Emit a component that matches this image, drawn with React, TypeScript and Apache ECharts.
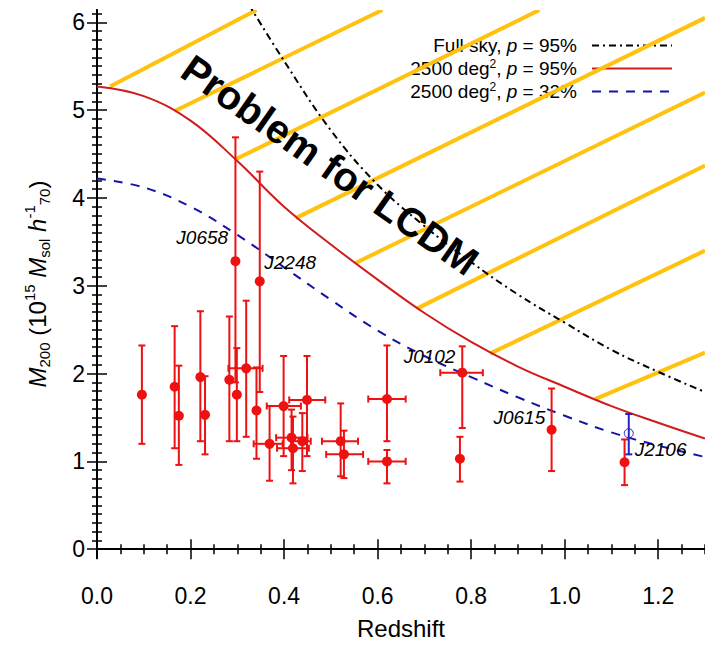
import React, { useEffect, useRef } from "react";
import * as echarts from "echarts";

// ---- axis ticks ----
const xMajorTicks = [0, 0.2, 0.4, 0.6, 0.8, 1.0, 1.2];
const yMajorTicks = [0, 1, 2, 3, 4, 5, 6];

// ---- cluster measurements (red points) ----
const clusterZ = [0.096, 0.166, 0.175, 0.221, 0.231, 0.283, 0.296, 0.299, 0.319, 0.348, 0.341, 0.369, 0.399, 0.416, 0.419, 0.439, 0.449, 0.521, 0.528, 0.620, 0.620, 0.781, 0.776, 0.972, 1.128];
const clusterM = [1.76, 1.85, 1.52, 1.96, 1.53, 1.93, 3.28, 1.76, 2.06, 3.05, 1.58, 1.20, 1.63, 1.27, 1.15, 1.23, 1.70, 1.23, 1.08, 1.71, 1.00, 2.01, 1.03, 1.36, 0.99];
const clusterMLo = [1.20, 1.15, 0.96, 1.23, 1.08, 1.23, 1.90, 1.23, 1.28, 1.79, 1.03, 0.78, 1.06, 0.90, 0.75, 0.89, 1.06, 0.83, 0.81, 1.23, 0.75, 1.38, 0.77, 0.89, 0.73];
const clusterMHi = [2.32, 2.54, 2.09, 2.71, 1.97, 2.65, 4.69, 2.29, 2.83, 4.30, 2.07, 1.63, 2.20, 1.59, 1.51, 1.55, 2.20, 1.66, 1.35, 2.32, 1.13, 2.31, 1.28, 1.83, 1.25];
const clusterZLo = [null, null, null, null, null, null, null, null, 0.281, null, null, 0.335, 0.363, 0.383, 0.385, 0.415, 0.411, 0.481, 0.490, 0.580, 0.580, 0.734, null, null, null];
const clusterZHi = [null, null, null, null, null, null, null, null, 0.354, null, null, 0.397, 0.436, 0.450, 0.453, 0.457, 0.488, 0.558, 0.569, 0.660, 0.660, 0.825, null, null, null];

// ---- J2106 alternative estimate (blue open circle) ----
const altZ = [1.137];
const altM = [1.32];
const altMLo = [1.08];
const altMHi = [1.54];

// ---- exclusion curves ----
const fullSkyZ = [0.325, 0.4, 0.5, 0.6, 0.7, 0.8, 0.9, 1.0, 1.1, 1.2, 1.3];
const fullSkyM = [6.20, 5.56, 4.77, 4.15, 3.68, 3.27, 2.90, 2.58, 2.27, 2.02, 1.79];
const deg95Z = [0, 0.1, 0.2, 0.3, 0.4, 0.5, 0.6, 0.7, 0.8, 0.9, 1.0, 1.1, 1.2, 1.3];
const deg95M = [5.27, 5.16, 4.88, 4.42, 3.90, 3.47, 3.07, 2.69, 2.36, 2.08, 1.85, 1.63, 1.44, 1.26];
const deg32Z = [0, 0.1, 0.2, 0.3, 0.4, 0.5, 0.6, 0.7, 0.8, 0.9, 1.0, 1.1, 1.2, 1.3];
const deg32M = [4.22, 4.12, 3.90, 3.58, 3.21, 2.84, 2.49, 2.20, 1.96, 1.73, 1.52, 1.33, 1.18, 1.05];

// ---- hatch lines (excluded region) ----
const hatchStartZ = [0.028, 0.166, 0.296, 0.425, 0.553, 0.684, 0.841, 1.065];
const hatchStartM = [5.27, 4.99, 4.44, 3.77, 3.26, 2.74, 2.23, 1.71];
const hatchEndZ = [0.341, 0.61, 0.946, 1.30, 1.30, 1.30, 1.30, 1.30];
const hatchEndM = [6.14, 6.14, 6.14, 6.05, 5.20, 4.37, 3.40, 2.24];

// ---- cluster name annotations ----
const annotNames = ["J0658", "J2248", "J0102", "J0615", "J2106"];
const annotZ = [0.225, 0.413, 0.711, 0.903, 1.205];
const annotM = [3.55, 3.27, 2.20, 1.50, 1.13];

const FONT = '"Liberation Sans", Arial, Helvetica, sans-serif';

const X_MIN = 0, X_MAX = 1.3, Y_MIN = -0.1, Y_MAX = 6.14;

function minorValues(step: number, lo: number, hi: number, majorStep: number) {
  const out: number[] = [];
  const n = Math.round((hi - lo) / step);
  for (let i = 0; i <= n; i++) {
    const v = +(lo + i * step).toFixed(4);
    const r = v / majorStep;
    if (Math.abs(r - Math.round(r)) > 1e-6) out.push(v);
  }
  return out;
}

const xMinor = minorValues(0.05, 0, 1.3, 0.2);
const yMinor = minorValues(0.1, 0, 6.1, 1);

function errRender(color: string, r: number, filled: boolean) {
  return (params: any, api: any) => {
    const z = api.value(0), m = api.value(1), lo = api.value(2), hi = api.value(3);
    const zl = api.value(4), zh = api.value(5);
    const c = api.coord([z, m]);
    const top = api.coord([z, hi]);
    const bot = api.coord([z, lo]);
    const cap = 3.5;
    const ls = () => ({ stroke: color, lineWidth: 2 });
    const children: any[] = [
      { type: "line", shape: { x1: c[0], y1: top[1], x2: c[0], y2: bot[1] }, style: ls() },
      { type: "line", shape: { x1: c[0] - cap, y1: top[1], x2: c[0] + cap, y2: top[1] }, style: ls() },
      { type: "line", shape: { x1: c[0] - cap, y1: bot[1], x2: c[0] + cap, y2: bot[1] }, style: ls() },
    ];
    if (isFinite(zl) && isFinite(zh)) {
      const a = api.coord([zl, m]);
      const b = api.coord([zh, m]);
      children.push(
        { type: "line", shape: { x1: a[0], y1: c[1], x2: b[0], y2: c[1] }, style: ls() },
        { type: "line", shape: { x1: a[0], y1: c[1] - cap, x2: a[0], y2: c[1] + cap }, style: ls() },
        { type: "line", shape: { x1: b[0], y1: c[1] - cap, x2: b[0], y2: c[1] + cap }, style: ls() }
      );
    }
    children.push({
      type: "circle",
      shape: { cx: c[0], cy: c[1], r },
      style: filled ? { fill: color } : { fill: "rgba(0,0,0,0)", stroke: color, lineWidth: 1 },
    });
    return { type: "group", children };
  };
}

export default function App() {
  const ref = useRef<HTMLDivElement>(null);
  useEffect(() => {
    if (!ref.current) return;
    const chart = echarts.init(ref.current, undefined, { renderer: "svg" });

    const clusterRows = clusterZ.map((z, i) => [
      z, clusterM[i], clusterMLo[i], clusterMHi[i],
      clusterZLo[i] == null ? NaN : clusterZLo[i],
      clusterZHi[i] == null ? NaN : clusterZHi[i],
    ]);
    const altRows = altZ.map((z, i) => [z, altM[i], altMLo[i], altMHi[i], NaN, NaN]);
    const hatchRows = hatchStartZ.map((z, i) => [z, hatchStartM[i], hatchEndZ[i], hatchEndM[i]]);

    const common = { type: "value", min: X_MIN, max: X_MAX, splitLine: { show: false } };
    const commonY = { type: "value", min: Y_MIN, max: Y_MAX, splitLine: { show: false } };
    const axisLine = { show: true, lineStyle: { color: "#000", width: 2 } };
    const majorTick = (vals: number[]) => ({ show: true, inside: true, length: 10, customValues: vals, lineStyle: { color: "#000", width: 1.5 } });
    const minorTick = (vals: number[]) => ({ show: true, inside: true, length: 5, customValues: vals, lineStyle: { color: "#000", width: 1.5 } });

    const legendNames = ["fullsky", "deg95", "deg32"];
    const legendLabels: Record<string, string> = {
      fullsky: "Full sky, {i|p} = 95%",
      deg95: "2500 deg{sup|2}, {i|p} = 95%",
      deg32: "2500 deg{sup|2}, {i|p} = 32%",
    };

    const option: any = {
      animation: false,
      backgroundColor: "#fff",
      textStyle: { fontFamily: FONT },
      grid: { left: 97, top: 10, width: 610, height: 548, containLabel: false },
      xAxis: [
        {
          ...common, position: "bottom", axisLine,
          axisTick: majorTick(xMajorTicks),
          axisLabel: { show: true, customValues: xMajorTicks, fontSize: 23, color: "#000", fontFamily: FONT, margin: 26, formatter: (v: number) => v.toFixed(1) },
          name: "Redshift", nameLocation: "middle", nameGap: 58,
          nameTextStyle: { fontSize: 24, color: "#000", fontFamily: FONT },
        },
        { ...common, position: "bottom", axisLine: { show: false }, axisTick: minorTick(xMinor), axisLabel: { show: false } },
        { ...common, position: "top", axisLine, axisTick: majorTick(xMajorTicks), axisLabel: { show: false } },
        { ...common, position: "top", axisLine: { show: false }, axisTick: minorTick(xMinor), axisLabel: { show: false } },
      ],
      yAxis: [
        {
          ...commonY, position: "left", axisLine,
          axisTick: majorTick(yMajorTicks),
          axisLabel: { show: true, customValues: yMajorTicks, fontSize: 23, color: "#000", fontFamily: FONT, margin: 12, formatter: (v: number) => String(Math.round(v)) },
          name: "{mi|M}{sub|200} (10{sup|15} {mi|M}{sub|sol} {mi|h}{sup|-1}{sub|70})",
          nameLocation: "middle", nameRotate: 90, nameGap: 45,
          nameTextStyle: {
            fontSize: 24, color: "#000", fontFamily: FONT,
            rich: {
              mi: { fontSize: 24, fontStyle: "italic", color: "#000", fontFamily: FONT, lineHeight: 30 },
              sub: { fontSize: 15, color: "#000", fontFamily: FONT, verticalAlign: "bottom", lineHeight: 30 },
              sup: { fontSize: 15, color: "#000", fontFamily: FONT, verticalAlign: "top", lineHeight: 30 },
            },
          },
        },
        { ...commonY, position: "left", axisLine: { show: false }, axisTick: minorTick(yMinor), axisLabel: { show: false } },
        { ...commonY, position: "right", axisLine, axisTick: majorTick(yMajorTicks), axisLabel: { show: false } },
        { ...commonY, position: "right", axisLine: { show: false }, axisTick: minorTick(yMinor), axisLabel: { show: false } },
      ],
      legend: {
        data: legendNames,
        orient: "vertical",
        right: 27,
        top: 30,
        align: "right",
        itemWidth: 80,
        itemHeight: 14,
        itemGap: 2,
        z: 1,
        itemStyle: { opacity: 0 },
        formatter: (name: string) => legendLabels[name],
        textStyle: {
          fontSize: 19, color: "#000", fontFamily: FONT, lineHeight: 21, padding: [0, 10, 0, 0],
          rich: {
            i: { fontSize: 19, fontStyle: "italic", color: "#000", fontFamily: FONT, lineHeight: 21 },
            sup: { fontSize: 12, color: "#000", fontFamily: FONT, verticalAlign: "top", lineHeight: 21 },
          },
        },
      },
      series: [
        {
          name: "hatch", type: "custom", z: 3, clip: true,
          encode: { x: [0, 2], y: [1, 3] },
          data: hatchRows,
          renderItem: (params: any, api: any) => {
            const a = api.coord([api.value(0), api.value(1)]);
            const b = api.coord([api.value(2), api.value(3)]);
            return { type: "line", shape: { x1: a[0], y1: a[1], x2: b[0], y2: b[1] }, style: { stroke: "#ffc20e", lineWidth: 4 } };
          },
        },
        {
          name: "fullsky", type: "line", showSymbol: false, symbol: "none", smooth: 0.4, z: 4,
          data: fullSkyZ.map((z, i) => [z, fullSkyM[i]]),
          lineStyle: { color: "#000", width: 2, type: [7, 4, 2, 4] },
          itemStyle: { color: "#000" },
        },
        {
          name: "deg95", type: "line", showSymbol: false, symbol: "none", smooth: 0.4, z: 4,
          data: deg95Z.map((z, i) => [z, deg95M[i]]),
          lineStyle: { color: "#d01c1c", width: 2, type: "solid" },
          itemStyle: { color: "#d01c1c" },
        },
        {
          name: "deg32", type: "line", showSymbol: false, symbol: "none", smooth: 0.4, z: 4,
          data: deg32Z.map((z, i) => [z, deg32M[i]]),
          lineStyle: { color: "#1414a8", width: 2, type: [9, 8] },
          itemStyle: { color: "#1414a8" },
        },
        {
          name: "clusters", type: "custom", z: 5,
          encode: { x: 0, y: 1 },
          data: clusterRows,
          renderItem: errRender("#ee1111", 5, true),
        },
        {
          name: "alt", type: "custom", z: 5,
          encode: { x: 0, y: 1 },
          data: altRows,
          renderItem: errRender("#2424c8", 4.5, false),
        },
        {
          name: "names", type: "scatter", z: 6,
          symbolSize: 1, itemStyle: { color: "rgba(0,0,0,0)" },
          data: annotNames.map((n, i) => ({ name: n, value: [annotZ[i], annotM[i]] })),
          label: {
            show: true, position: "inside", formatter: (p: any) => p.name, opacity: 1,
            fontSize: 19, fontStyle: "italic", color: "#000", fontFamily: FONT,
          },
          silent: true,
        },
      ],
      graphic: [
        {
          type: "text", x: 330, y: 165, rotation: -35 * Math.PI / 180, z: 100,
          style: {
            text: "Problem for LCDM", font: `bold 40px ${FONT}`, fill: "#000",
            align: "center", verticalAlign: "middle", textAlign: "center", textVerticalAlign: "middle",
          },
        },
      ],
    };
    chart.setOption(option);
    return () => chart.dispose();
  }, []);
  return <div ref={ref} style={{ position: "absolute", left: 0, top: 0, width: 705, height: 646, background: "#fff" }} />;
}
